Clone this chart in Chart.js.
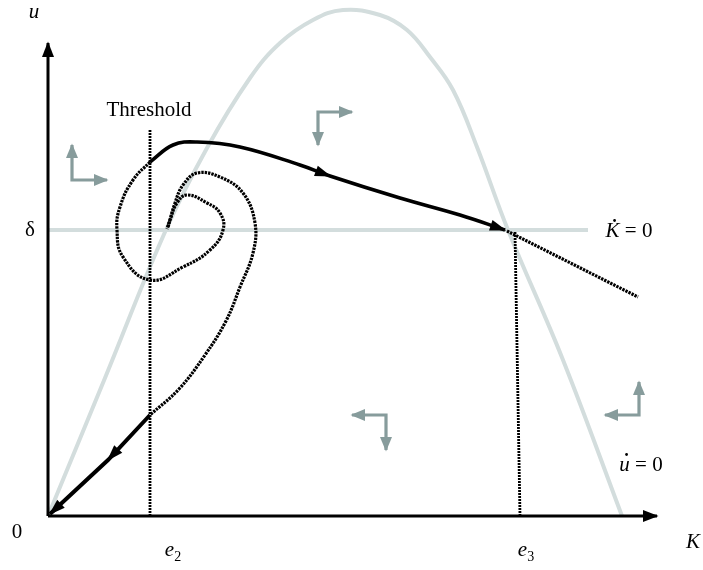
<!DOCTYPE html>
<html><head><meta charset="utf-8">
<script src="https://cdn.jsdelivr.net/npm/chart.js@4.4.1/dist/chart.umd.min.js"></script>
<style>html,body{margin:0;padding:0;background:#fff;}#wrap{width:703px;height:570px;}.fl{font-family:"Liberation Serif";position:absolute;left:-999px;}</style>
</head><body><span class="fl">Threshold <i>u</i></span><div id="wrap"><canvas id="c" width="703" height="570"></canvas></div>
<script>
// Schematic phase diagram, values in (K, u) units, origin at (0,0)
const uDotZero = [[0,0],[57,138],[117,284],[159,368],[202,438],[232,473],[265,496],[295,506],[332,501],[359,486],[382,459],[405,426],[429,369],[460,286],[515,156],[574,0]];
const deltaLevel = 286;
const kDotZero = [[0,deltaLevel],[540,deltaLevel]];
const thresholdK = 102;
const thresholdLine = [[thresholdK,0],[thresholdK,387]];
const e3Line = [[467,284],[472,0]];
const saddlePathUpper = [[102,354],[125,371],[149,374],[192,369],[252,351],[282,340],[352,318],[412,301],[457,286]];
const saddlePathLower = [[102,101],[60,56],[2,2]];
const saddleExtension = [[459,285],[590,219]];
const spiralInner = [[102,354],[85,336],[72,309],[69,286],[75,259],[102,236],[135,249],[162,266],[175,286],[172,303],[159,313],[139,321],[129,313],[122,296],[119,287]];
const spiralOuter = [[120,289],[127,313],[135,331],[149,343],[172,339],[195,323],[207,293],[205,263],[192,229],[178,195],[157,161],[131,127],[102,101]];
const axisK = [[0,0],[609,0]];
const axisU = [[0,0],[0,473]];
const flowArrows = [
  [[24,371],[24,336],[59,336]],
  [[304,404],[270,404],[270,371]],
  [[304,101],[338,101],[338,66]],
  [[591,134],[591,101],[557,101]]
];
const textLabels = [
  {at:[-14,504], parts:[{t:'u',it:true}]},
  {at:[-31,-16], parts:[{t:'0'}]},
  {at:[-18,deltaLevel], parts:[{t:'δ'}]},
  {at:[645,-26], parts:[{t:'K',it:true}]},
  {at:[125,-34], parts:[{t:'e',it:true},{t:'2',sub:true}]},
  {at:[478,-34], parts:[{t:'e',it:true},{t:'3',sub:true}]},
  {at:[101,406], parts:[{t:'Threshold'}]},
  {at:[581,285], parts:[{t:'K',it:true,dot:true},{t:' = 0'}]},
  {at:[593,51], parts:[{t:'u',it:true,dot:true},{t:' = 0'}]}
];

const toXY = a => a.map(([x,y]) => ({x,y}));
const GRAY_CURVE = '#d3dddd';
const GRAY_ARROW = '#879c9c';
const BLACK = '#000';
const base = {showLine:true, pointRadius:0, fill:false, tension:0};
const dotted = {borderDash:[2.4,1], borderWidth:3.2, borderColor:BLACK};

const datasets = [
  {...base, data:toXY(uDotZero), borderColor:GRAY_CURVE, borderWidth:4, tension:0.4, order:6},
  {...base, data:toXY(kDotZero), borderColor:GRAY_CURVE, borderWidth:4, order:6},
  ...flowArrows.map(a => ({...base, data:toXY(a), borderColor:GRAY_ARROW, borderWidth:3.2, order:5, heads:[[0,1],[2,1]], headLen:13, headWidth:12})),
  {...base, ...dotted, borderWidth:2.8, borderDash:[2,1], data:toXY(thresholdLine), order:4},
  {...base, ...dotted, borderWidth:2.8, borderDash:[2,1], data:toXY(e3Line), order:4},
  {...base, ...dotted, data:toXY(spiralInner), tension:0.45, order:3},
  {...base, ...dotted, data:toXY(spiralOuter), tension:0.4, order:3},
  {...base, ...dotted, data:toXY(saddleExtension), order:3},
  {...base, data:toXY(saddlePathUpper), borderColor:BLACK, borderWidth:3.6, tension:0.4, order:2, heads:[[5,4],[8,7]], headLen:15, headWidth:11},
  {...base, data:toXY(saddlePathLower), borderColor:BLACK, borderWidth:4, order:2, heads:[[1,0],[2,1]], headLen:15, headWidth:11},
  {...base, data:toXY(axisK), borderColor:BLACK, borderWidth:3, order:1, heads:[[1,0]], headLen:14, headWidth:12},
  {...base, data:toXY(axisU), borderColor:BLACK, borderWidth:3, order:1, heads:[[1,0]], headLen:14, headWidth:12}
];

const FS = 21;
const fontOf = (p) => `${p.it?'italic ':''}${p.sub?14:FS}px "Liberation Serif", serif`;

const overlay = {
  id:'overlay',
  afterDatasetsDraw(chart){
    const ctx = chart.ctx, sx = chart.scales.x, sy = chart.scales.y;
    const px = v => sx.getPixelForValue(v), py = v => sy.getPixelForValue(v);
    chart.data.datasets.forEach(ds => {
      (ds.heads||[]).forEach(([tip,from]) => {
        const t = ds.data[tip], f = ds.data[from];
        const tx = px(t.x), ty = py(t.y), fx = px(f.x), fy = py(f.y);
        const a = Math.atan2(ty-fy, tx-fx);
        const L = ds.headLen, W = ds.headWidth/2;
        const bx = tx - L*Math.cos(a), by = ty - L*Math.sin(a);
        ctx.save();
        ctx.fillStyle = ds.borderColor;
        ctx.beginPath();
        ctx.moveTo(tx + 1.5*Math.cos(a), ty + 1.5*Math.sin(a));
        ctx.lineTo(bx + W*Math.sin(a), by - W*Math.cos(a));
        ctx.lineTo(bx - W*Math.sin(a), by + W*Math.cos(a));
        ctx.closePath();
        ctx.fill();
        ctx.restore();
      });
    });
    ctx.save();
    ctx.fillStyle = '#000';
    ctx.textBaseline = 'middle';
    ctx.textAlign = 'left';
    textLabels.forEach(lb => {
      let total = 0;
      lb.parts.forEach(p => { ctx.font = fontOf(p); p.w = ctx.measureText(p.t).width; total += p.w; });
      let x = px(lb.at[0]) - total/2;
      const cy = py(lb.at[1]);
      lb.parts.forEach(p => {
        ctx.font = fontOf(p);
        ctx.fillText(p.t, x, cy + (p.sub ? 7 : 0));
        if (p.dot) {
          ctx.beginPath();
          ctx.arc(x + p.w/2 + 2, cy - FS*0.5, 1.4, 0, Math.PI*2);
          ctx.fill();
        }
        x += p.w;
      });
    });
    ctx.restore();
  }
};

function draw(){
  new Chart(document.getElementById('c'), {
    type:'scatter',
    data:{datasets},
    options:{
      responsive:false,
      animation:false,
      devicePixelRatio:1,
      layout:{padding:0},
      plugins:{legend:{display:false}, tooltip:{enabled:false}, title:{display:false}},
      scales:{
        x:{type:'linear', min:-48, max:655, display:false},
        y:{type:'linear', min:-54, max:516, display:false}
      }
    },
    plugins:[overlay]
  });
}
Promise.all([
  document.fonts.load('21px "Liberation Serif"'),
  document.fonts.load('italic 21px "Liberation Serif"')
]).then(draw, draw);
</script></body></html>
